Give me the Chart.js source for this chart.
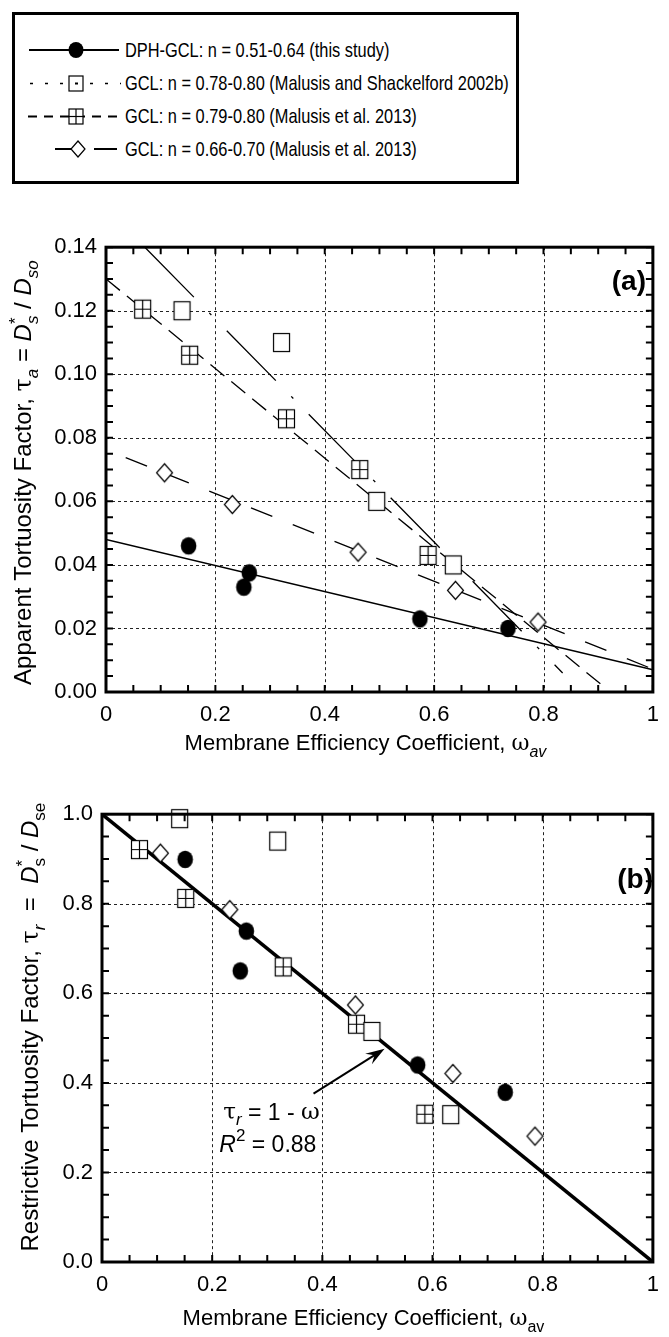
<!DOCTYPE html>
<html>
<head>
<meta charset="utf-8">
<script src="https://cdn.jsdelivr.net/npm/chart.js@4.4.1/dist/chart.umd.min.js"></script>
<style>
  html, body { margin: 0; padding: 0; background: #fff; }
  body { width: 669px; height: 1337px; position: relative; overflow: hidden;
         font-family: 'Liberation Sans', Arial, sans-serif; }
  #legend { position: absolute; left: 12px; top: 12px; width: 501px; height: 166px;
            border: 3px solid #000; }
  .row { position: absolute; left: 0; height: 24px; display: flex; align-items: center; }
  .row svg { display: block; }
  .row span { display: inline-block; font-size: 21px; color: #000; margin-left: 4px; white-space: nowrap;
              transform: scaleX(0.78); transform-origin: 0 50%; }
  #chartA { position: absolute; left: 0; top: 225px; }
  #chartB { position: absolute; left: 0; top: 792px; }
</style>
</head>
<body>

<div id="legend">
  <div class="row" style="top:23px">
    <svg width="106" height="24"><line x1="14" y1="12" x2="104" y2="12" stroke="#000" stroke-width="2"/>
      <ellipse cx="61" cy="12" rx="7.5" ry="8" fill="#000"/></svg>
    <span>DPH-GCL: n = 0.51-0.64 (this study)</span>
  </div>
  <div class="row" style="top:56px">
    <svg width="106" height="24"><line x1="15" y1="12.5" x2="106" y2="12.5" stroke="#000" stroke-width="1.5" stroke-dasharray="3,12"/>
      <rect x="54" y="5" width="14" height="15" fill="#fff" stroke="#000" stroke-width="1.2"/>
      <rect x="60" y="11.5" width="3" height="2" fill="#000"/></svg>
    <span>GCL: n = 0.78-0.80 (Malusis and Shackelford 2002b)</span>
  </div>
  <div class="row" style="top:89px">
    <svg width="106" height="24"><line x1="13" y1="12.5" x2="106" y2="12.5" stroke="#000" stroke-width="2" stroke-dasharray="9,7"/>
      <rect x="54" y="5" width="14" height="15" fill="#fff" stroke="#000" stroke-width="1.2"/>
      <line x1="61" y1="5" x2="61" y2="20" stroke="#000" stroke-width="1.2"/>
      <line x1="54" y1="12.5" x2="68" y2="12.5" stroke="#000" stroke-width="1.2"/></svg>
    <span>GCL: n = 0.79-0.80 (Malusis et al. 2013)</span>
  </div>
  <div class="row" style="top:122px">
    <svg width="106" height="24"><line x1="40" y1="12" x2="60" y2="12" stroke="#000" stroke-width="2"/>
      <line x1="79" y1="12" x2="102" y2="12" stroke="#000" stroke-width="2"/>
      <polygon points="63,4 70,12 63,20 56,12" fill="#fff" stroke="#000" stroke-width="1.2"/></svg>
    <span>GCL: n = 0.66-0.70 (Malusis et al. 2013)</span>
  </div>
</div>

<canvas id="chartA" width="669" height="540"></canvas>
<canvas id="chartB" width="669" height="545"></canvas>

<script>
// ---- data (omega_av vs tortuosity) ----
// DPH-GCL (this study), filled circles
const omegaDPH   = [0.151, 0.252, 0.262, 0.574, 0.735];
const tauA_DPH   = [0.046, 0.033, 0.0375, 0.023, 0.020];
const omegaDPHb  = [0.151, 0.251, 0.262, 0.573, 0.732];
const tauR_DPH   = [0.899, 0.650, 0.739, 0.440, 0.379];

// GCL, Malusis and Shackelford 2002b, open squares
const omegaMS    = [0.139, 0.321, 0.495, 0.635];
const tauA_MS    = [0.120, 0.110, 0.060, 0.040];
const omegaMSb   = [0.141, 0.319, 0.490, 0.633];
const tauR_MS    = [0.990, 0.940, 0.515, 0.329];

// GCL n = 0.79-0.80, Malusis et al. 2013, crossed squares
const omegaM79   = [0.067, 0.153, 0.330, 0.464, 0.589];
const tauA_M79   = [0.1205, 0.106, 0.086, 0.070, 0.043];
const omegaM79b  = [0.068, 0.152, 0.329, 0.462, 0.586];
const tauR_M79   = [0.921, 0.812, 0.659, 0.531, 0.330];

// GCL n = 0.66-0.70, Malusis et al. 2013, diamonds
const omegaM66   = [0.107, 0.231, 0.461, 0.639, 0.790];
const tauA_M66   = [0.069, 0.059, 0.044, 0.032, 0.022];
const omegaM66b  = [0.106, 0.232, 0.460, 0.637, 0.786];
const tauR_M66   = [0.913, 0.787, 0.574, 0.421, 0.281];

// fitted trend lines in (a), end points
const fitDPH_x = [0, 1],         fitDPH_y = [0.048, 0.007];
const fitMS_x  = [0.071, 0.835], fitMS_y  = [0.140, 0.006];
const fitM79_x = [0, 0.908],     fitM79_y = [0.130, 0.002];
const fitM66_x = [0.036, 1.0],   fitM66_y = [0.0738, 0.0072];
// tau_r = 1 - omega in (b)
const fitB_x = [0, 1], fitB_y = [1, 0];

// annotation in (b)
const arrowFrom = [0.384, 0.376], arrowTo = [0.513, 0.476];

const xTicks  = [0, 0.2, 0.4, 0.6, 0.8, 1];
const yTicksA = [0, 0.02, 0.04, 0.06, 0.08, 0.10, 0.12, 0.14];
const yTicksB = [0, 0.2, 0.4, 0.6, 0.8, 1.0];

const SANS = "'Liberation Sans', Arial, sans-serif";
const SERIF = "'DejaVu Serif', 'Liberation Serif', serif";
const FS = 22;

const pts = (xs, ys) => xs.map((x, i) => ({ x, y: ys[i] }));

// ---- marker images ----
const mkMarker = (kind) => {
    const c = document.createElement('canvas');
    c.width = 21; c.height = 23;
    const g = c.getContext('2d');
    g.strokeStyle = '#000'; g.fillStyle = '#fff'; g.lineWidth = 1.2;
    if (kind === 'circle') {
        g.fillStyle = '#000';
        g.beginPath(); g.ellipse(10.5, 11.5, 7.8, 8.8, 0, 0, Math.PI * 2); g.fill();
    } else if (kind === 'square' || kind === 'plus') {
        g.fillRect(2.5, 2.5, 16, 18);
        g.strokeRect(2.5, 2.5, 16, 18);
        if (kind === 'plus') {
            g.beginPath();
            g.moveTo(10.5, 2.5); g.lineTo(10.5, 20.5);
            g.moveTo(2.5, 11.5); g.lineTo(18.5, 11.5);
            g.stroke();
        }
    } else if (kind === 'diamond') {
        g.beginPath();
        g.moveTo(10.5, 2.5); g.lineTo(18.5, 11.5); g.lineTo(10.5, 20.5); g.lineTo(2.5, 11.5); g.closePath();
        g.fill(); g.stroke();
    }
    return c;
};
const M = { circle: mkMarker('circle'), square: mkMarker('square'), plus: mkMarker('plus'), diamond: mkMarker('diamond') };

const scatter = (data, style) => ({
    type: 'scatter', data, pointStyle: style, pointRadius: 10, pointHoverRadius: 10,
    showLine: false, clip: false, order: 0
});
const fit = (data, width, dash) => ({
    type: 'line', data, borderColor: '#000', borderWidth: width, borderDash: dash,
    pointRadius: 0, fill: false, tension: 0, order: 1
});

// ---- rich text helper (italic / sub / sup runs) ----
const drawRich = (ctx, runs, x, y, align, size) => {
    const font = (r) => `${r.it ? 'italic ' : ''}${Math.round(size * (r.sub || r.sup ? 0.72 : 1))}px ${r.ff || SANS}`;
    let w = 0;
    runs.forEach(r => { ctx.font = font(r); r.w = ctx.measureText(r.t).width; if (!r.over) w += r.w; });
    let cx = align === 'center' ? x - w / 2 : x;
    let lastX = cx;
    runs.forEach(r => {
        ctx.font = font(r);
        const dy = r.sub ? size * 0.3 : r.sup ? -size * 0.42 : 0;
        const px = r.over ? lastX : cx;
        ctx.fillText(r.t, px, y + dy);
        if (!r.over) { lastX = cx; cx += r.w; }
    });
};

// ---- frame, inward ticks, dotted grid, titles ----
const makeFrame = (o) => ({
    id: 'frame',
    beforeDatasetsDraw(chart) {
        const { ctx, chartArea: a, scales: { x, y } } = chart;
        ctx.save();
        ctx.strokeStyle = '#222'; ctx.lineWidth = 1; ctx.setLineDash([3, 3]);
        ctx.beginPath();
        o.gridX.forEach(v => { const p = Math.round(x.getPixelForValue(v)) + 0.5; ctx.moveTo(p, a.top); ctx.lineTo(p, a.bottom); });
        o.gridY.forEach(v => { const p = Math.round(y.getPixelForValue(v)) + 0.5; ctx.moveTo(a.left, p); ctx.lineTo(a.right, p); });
        ctx.stroke();
        ctx.restore();
    },
    afterDatasetsDraw(chart) {
        const { ctx, chartArea: a, scales: { x, y } } = chart;
        ctx.save();
        ctx.strokeStyle = '#000'; ctx.lineWidth = 2;
        ctx.beginPath();
        const tl = 7;
        for (let v = x.min; v <= x.max + 1e-9; v += o.minorX) {
            const p = x.getPixelForValue(v);
            ctx.moveTo(p, a.bottom); ctx.lineTo(p, a.bottom - tl);
            ctx.moveTo(p, a.top); ctx.lineTo(p, a.top + tl);
        }
        for (let v = y.min; v <= y.max + 1e-9; v += o.minorY) {
            const p = y.getPixelForValue(v);
            ctx.moveTo(a.left, p); ctx.lineTo(a.left + tl, p);
            ctx.moveTo(a.right, p); ctx.lineTo(a.right - tl, p);
        }
        ctx.stroke();
        ctx.lineWidth = 3;
        ctx.strokeRect(a.left, a.top, a.right - a.left, a.bottom - a.top);

        // panel label
        ctx.fillStyle = '#000';
        ctx.font = `bold 28px ${SANS}`;
        ctx.textAlign = 'right'; ctx.textBaseline = 'middle';
        ctx.fillText(o.panel, o.panelX, o.panelY);

        // axis titles
        ctx.textAlign = 'left'; ctx.textBaseline = 'alphabetic';
        drawRich(ctx, o.xTitle, (a.left + a.right) / 2 + o.xTitleDx, o.xTitleY, 'center', FS);
        ctx.save();
        ctx.translate(o.yTitleX, (a.top + a.bottom) / 2 + o.yTitleDy);
        ctx.rotate(-Math.PI / 2);
        drawRich(ctx, o.yTitle, 0, 0, 'center', 24);
        ctx.restore();

        if (o.note) o.note(chart);
        ctx.restore();
    }
});

const omegaTitle = (itSub) => [
    { t: 'Membrane Efficiency Coefficient, ' },
    { t: 'ω', ff: SERIF },
    { t: 'av', sub: true, it: itSub }
];

const baseOptions = (yMin, yMax, yTicks, yFmt, axisW, padTop, xAxisH) => ({
    responsive: false, animation: false, events: [],
    layout: { padding: { top: padTop, right: 3, left: 0, bottom: 0 }, autoPadding: false },
    plugins: { legend: { display: false }, tooltip: { enabled: false } },
    scales: {
        x: {
            type: 'linear', min: 0, max: 1,
            grid: { display: false, drawTicks: false }, border: { display: false },
            afterBuildTicks: s => { s.ticks = xTicks.map(v => ({ value: v })); },
            ticks: { color: '#000', padding: 10, maxRotation: 0,
                     font: { family: SANS, size: FS }, callback: v => String(v) },
            afterFit: s => { s.height = xAxisH; }
        },
        y: {
            type: 'linear', min: yMin, max: yMax,
            grid: { display: false, drawTicks: false }, border: { display: false },
            afterBuildTicks: s => { s.ticks = yTicks.map(v => ({ value: v })); },
            ticks: { color: '#000', padding: 9,
                     font: { family: SANS, size: FS }, callback: yFmt },
            afterFit: s => { s.width = axisW; }
        }
    }
});

// ---------------- (a) ----------------
new Chart(document.getElementById('chartA'), {
    data: {
        datasets: [
            scatter(pts(omegaDPH, tauA_DPH), M.circle),
            scatter(pts(omegaMS, tauA_MS), M.square),
            scatter(pts(omegaM79, tauA_M79), M.plus),
            scatter(pts(omegaM66, tauA_M66), M.diamond),
            fit(pts(fitDPH_x, fitDPH_y), 1.3, []),
            fit(pts(fitMS_x, fitMS_y), 1.3, [70, 22, 3, 22]),
            fit(pts(fitM79_x, fitM79_y), 1.3, [18, 9]),
            fit(pts(fitM66_x, fitM66_y), 1.3, [23, 22])
        ]
    },
    options: baseOptions(0, 0.14, yTicksA, v => v.toFixed(2), 106, 20, 73),
    plugins: [makeFrame({
        gridX: [0.2, 0.4, 0.6, 0.8], gridY: [0.02, 0.04, 0.06, 0.08, 0.10, 0.12],
        minorX: 0.05, minorY: 0.005,
        panel: '(a)', panelX: 646, panelY: 57,
        xTitle: omegaTitle(true), xTitleDx: -14, xTitleY: 525,
        yTitle: [
            { t: 'Apparent Tortuosity Factor, ' },
            { t: 'τ', ff: SERIF }, { t: 'a', sub: true, it: true },
            { t: ' = ' }, { t: 'D', it: true }, { t: 's', sub: true, it: true }, { t: '*', sup: true, over: true },
            { t: ' / ' }, { t: 'D', it: true }, { t: 'so', sub: true, it: true }
        ],
        yTitleX: 31, yTitleDy: 3
    })]
});

// ---------------- (b) ----------------
const noteB = (chart) => {
    const { ctx, scales: { x, y } } = chart;
    const x0 = x.getPixelForValue(arrowFrom[0]), y0 = y.getPixelForValue(arrowFrom[1]);
    const x1 = x.getPixelForValue(arrowTo[0]),   y1 = y.getPixelForValue(arrowTo[1]);
    const ang = Math.atan2(y1 - y0, x1 - x0);
    ctx.strokeStyle = '#000'; ctx.fillStyle = '#000'; ctx.lineWidth = 2;
    ctx.beginPath(); ctx.moveTo(x0, y0);
    ctx.lineTo(x1 - 10 * Math.cos(ang), y1 - 10 * Math.sin(ang)); ctx.stroke();
    ctx.beginPath();
    ctx.moveTo(x1, y1);
    ctx.lineTo(x1 - 20 * Math.cos(ang - 0.32), y1 - 20 * Math.sin(ang - 0.32));
    ctx.lineTo(x1 - 12 * Math.cos(ang), y1 - 12 * Math.sin(ang));
    ctx.lineTo(x1 - 20 * Math.cos(ang + 0.32), y1 - 20 * Math.sin(ang + 0.32));
    ctx.closePath(); ctx.fill();

    ctx.textAlign = 'left'; ctx.textBaseline = 'middle';
    drawRich(ctx, [
        { t: 'τ', ff: SERIF }, { t: 'r', sub: true, it: true },
        { t: ' = 1 - ' }, { t: 'ω', ff: SERIF }
    ], x.getPixelForValue(0.22), y.getPixelForValue(0.332), 'left', 23);
    drawRich(ctx, [
        { t: 'R', it: true }, { t: '2', sup: true }, { t: ' = 0.88' }
    ], x.getPixelForValue(0.213), y.getPixelForValue(0.259), 'left', 23);
};

new Chart(document.getElementById('chartB'), {
    data: {
        datasets: [
            scatter(pts(omegaDPHb, tauR_DPH), M.circle),
            scatter(pts(omegaMSb, tauR_MS), M.square),
            scatter(pts(omegaM79b, tauR_M79), M.plus),
            scatter(pts(omegaM66b, tauR_M66), M.diamond),
            fit(pts(fitB_x, fitB_y), 3.5, [])
        ]
    },
    options: baseOptions(0, 1, yTicksB, v => v.toFixed(1), 102, 20, 75),
    plugins: [makeFrame({
        gridX: [0.2, 0.4, 0.6, 0.8], gridY: [0.2, 0.4, 0.6, 0.8],
        minorX: 0.05, minorY: 0.05,
        panel: '(b)', panelX: 653, panelY: 88,
        xTitle: omegaTitle(false), xTitleDx: -14, xTitleY: 533,
        yTitle: [
            { t: 'Restrictive Tortuosity Factor, ' },
            { t: 'τ', ff: SERIF }, { t: 'r', sub: true, it: true },
            { t: '  =  ' }, { t: 'D', it: true }, { t: 's', sub: true }, { t: '*', sup: true, over: true },
            { t: ' / ' }, { t: 'D', it: true }, { t: 'se', sub: true }
        ],
        yTitleX: 38, yTitleDy: -11,
        note: noteB
    })]
});
</script>
</body>
</html>
